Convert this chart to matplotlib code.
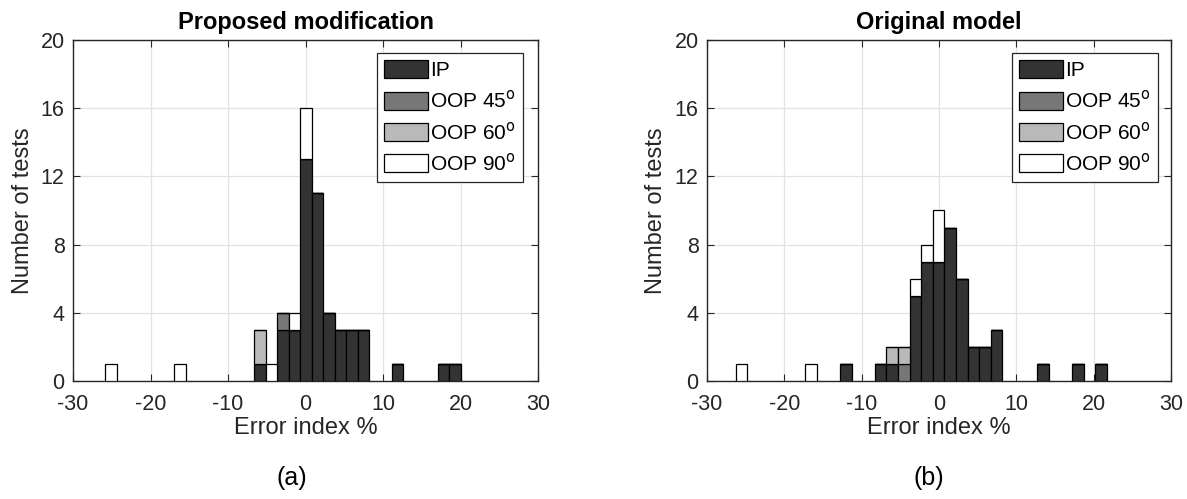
import matplotlib
matplotlib.use("Agg")
import matplotlib.pyplot as plt
import numpy as np

plt.rcParams['font.family'] = ['Liberation Sans', 'DejaVu Sans']
plt.rcParams['axes.unicode_minus'] = False

# ---------------- data ----------------
categories = ["IP", "OOP 45$^{\\mathrm{o}}$", "OOP 60$^{\\mathrm{o}}$", "OOP 90$^{\\mathrm{o}}$"]
colors = ["#333333", "#777777", "#b9b9b9", "#ffffff"]

# Panel (a): Proposed modification (bin centres, counts per category)
bin_width_a = 1.48
centers_a = [-25.10, -16.22, -5.86, -4.38, -2.90, -1.42, 0.06, 1.54, 3.02, 4.50, 5.98, 7.46, 11.90, 17.82, 19.30]
ip_a      = [0, 0, 1, 0, 3, 3, 13, 11, 4, 3, 3, 3, 1, 1, 1]
oop45_a   = [0, 0, 0, 0, 1, 0, 0, 0, 0, 0, 0, 0, 0, 0, 0]
oop60_a   = [0, 0, 2, 0, 0, 0, 0, 0, 0, 0, 0, 0, 0, 0, 0]
oop90_a   = [1, 1, 0, 1, 0, 1, 3, 0, 0, 0, 0, 0, 0, 0, 0]

# Panel (b): Original model
bin_width_b = 1.50
centers_b = [-25.56, -16.56, -12.06, -7.56, -6.06, -4.56, -3.06, -1.56, -0.06, 1.44, 2.94, 4.44, 5.94, 7.44, 13.44, 17.94, 20.94]
ip_b      = [0, 0, 1, 1, 1, 0, 5, 7, 7, 9, 6, 2, 2, 3, 1, 1, 1]
oop45_b   = [0, 0, 0, 0, 0, 1, 0, 0, 0, 0, 0, 0, 0, 0, 0, 0, 0]
oop60_b   = [0, 0, 0, 0, 1, 1, 0, 0, 0, 0, 0, 0, 0, 0, 0, 0, 0]
oop90_b   = [1, 1, 0, 0, 0, 0, 1, 1, 3, 0, 0, 0, 0, 0, 0, 0, 0]

titles = ["Proposed modification", "Original model"]
panel_labels = ["(a)", "(b)"]
xticks = [-30, -20, -10, 0, 10, 20, 30]
yticks = [0, 4, 8, 12, 16, 20]

# ---------------- figure ----------------
W, H = 1187, 499
fig = plt.figure(figsize=(W / 100, H / 100), dpi=100)

axes_px = [(73, 40, 538, 381), (707, 40, 1171, 381)]
legend_anchor = [(0.968, 0.962), (0.972, 0.962)]
panel_label_x = [292, 929]
ylabel_x = [23, 656]

panels = [
    (centers_a, bin_width_a, [ip_a, oop45_a, oop60_a, oop90_a]),
    (centers_b, bin_width_b, [ip_b, oop45_b, oop60_b, oop90_b]),
]

spine_col = "#262626"
for i, (centers, bw, series) in enumerate(panels):
    x0, y0, x1, y1 = axes_px[i]
    ax = fig.add_axes([x0 / W, 1 - y1 / H, (x1 - x0) / W, (y1 - y0) / H])
    bottom = np.zeros(len(centers))
    handles = []
    for vals, col, lab in zip(series, colors, categories):
        vals = np.array(vals, dtype=float)
        h = ax.bar(centers, vals, width=bw, bottom=bottom, color=col,
                   edgecolor="black", linewidth=0.9, label=lab, zorder=3)
        handles.append(h)
        bottom = bottom + vals
    ax.set_xlim(-30, 30)
    ax.set_ylim(0, 20)
    ax.set_xticks(xticks)
    ax.set_yticks(yticks)
    ax.tick_params(direction="in", top=True, right=True, length=5,
                   labelsize=15.5, colors=spine_col, width=0.8)
    ax.tick_params(axis="x", pad=9)
    ax.tick_params(axis="y", pad=6)
    ax.grid(True, color="#e2e2e2", linewidth=0.9, zorder=0)
    ax.set_axisbelow(True)
    for s in ax.spines.values():
        s.set_color(spine_col)
        s.set_linewidth(1.0)
    ax.set_title(titles[i], fontsize=17, fontweight="bold", pad=8)
    ax.set_xlabel("Error index %", fontsize=17, color=spine_col, labelpad=2)
    fig.text(ylabel_x[i] / W, 1 - ((y0 + y1) / 2) / H, "Number of tests",
             rotation=90, fontsize=17, color=spine_col, ha="center", va="center")
    leg = ax.legend(handles=handles, loc="upper right",
                    bbox_to_anchor=legend_anchor[i], borderaxespad=0,
                    fontsize=15, fancybox=False, framealpha=1,
                    edgecolor=spine_col, handlelength=2.1, handleheight=0.95,
                    handletextpad=0.1, labelspacing=0.45, borderpad=0.35)
    leg.get_frame().set_linewidth(0.9)
    leg.set_zorder(5)
    fig.text(panel_label_x[i] / W, 1 - 478 / H, panel_labels[i],
             fontsize=18, ha="center", va="center", color="black")

fig.savefig("out.png", dpi=100)
